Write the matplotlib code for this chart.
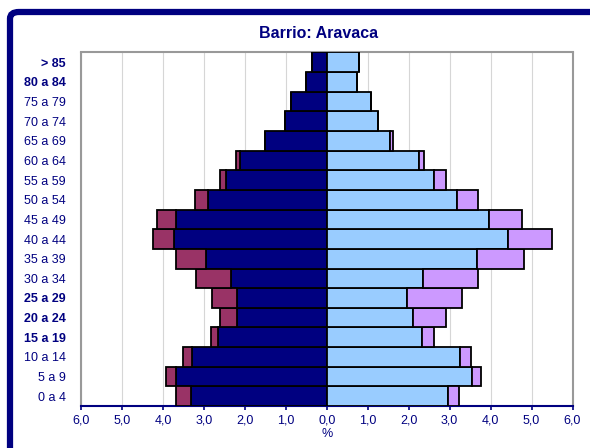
import matplotlib
matplotlib.use("Agg")
import matplotlib.pyplot as plt
from matplotlib.patches import FancyBboxPatch
from matplotlib.ticker import FuncFormatter
import numpy as np

plt.rcParams["font.family"] = ["Liberation Sans", "DejaVu Sans"]

NAVY = "#000080"

# age groups, youngest first
groups = ["0 a 4", "5 a 9", "10 a 14", "15 a 19", "20 a 24", "25 a 29",
          "30 a 34", "35 a 39", "40 a 44", "45 a 49", "50 a 54", "55 a 59",
          "60 a 64", "65 a 69", "70 a 74", "75 a 79", "80 a 84", "> 85"]
bold_groups = ["15 a 19", "20 a 24", "25 a 29", "80 a 84", "> 85"]

# left side (%), inner and outer segments
left_inner = [3.32, 3.68, 3.29, 2.66, 2.20, 2.20, 2.33, 2.96, 3.72, 3.68,
              2.91, 2.46, 2.13, 1.50, 1.03, 0.88, 0.51, 0.36]
left_outer = [0.36, 0.24, 0.22, 0.16, 0.40, 0.60, 0.87, 0.73, 0.53, 0.47,
              0.31, 0.14, 0.08, 0.00, 0.00, 0.00, 0.00, 0.00]

# right side (%), inner and outer segments
right_inner = [2.96, 3.54, 3.25, 2.33, 2.11, 1.97, 2.34, 3.68, 4.42, 3.96,
               3.17, 2.63, 2.25, 1.54, 1.26, 1.08, 0.73, 0.78]
right_outer = [0.28, 0.23, 0.28, 0.28, 0.81, 1.34, 1.36, 1.13, 1.07, 0.80,
               0.53, 0.27, 0.12, 0.07, 0.00, 0.00, 0.00, 0.00]

x_ticks = [-6, -5, -4, -3, -2, -1, 0, 1, 2, 3, 4, 5, 6]

fig = plt.figure(figsize=(5.9, 4.48), dpi=100)
ax = fig.add_axes([81 / 590, 42 / 448, 491.5 / 590, 353.5 / 448])

y = np.arange(len(groups))
li = np.array(left_inner)
ri = np.array(right_inner)
kw = dict(height=1.0, edgecolor="black", linewidth=1.3, zorder=3)
ax.barh(y, -li, color=NAVY, **kw)
ax.barh(y, -np.array(left_outer), left=-li, color="#993366", **kw)
ax.barh(y, ri, color="#99CCFF", **kw)
ax.barh(y, right_outer, left=ri, color="#CC99FF", **kw)

ax.set_xlim(-6, 6)
ax.set_ylim(-0.5, len(groups) - 0.5)
ax.set_xticks(x_ticks)
ax.xaxis.set_major_formatter(FuncFormatter(lambda v, p: f"{abs(v):.1f}".replace(".", ",")))
ax.grid(axis="x", color="#d6d6d6", linewidth=0.8, zorder=0)

ax.set_yticks(y)
ax.set_yticklabels(groups)
for lab in ax.get_yticklabels():
    lab.set_color(NAVY)
    lab.set_fontsize(9)
    if lab.get_text() in bold_groups:
        lab.set_fontweight("bold")
ax.tick_params(axis="y", length=0, pad=11)
ax.tick_params(axis="x", colors=NAVY, labelsize=9, length=3, width=1.2,
               direction="out", pad=3)

for s in ["left", "top", "right"]:
    ax.spines[s].set_color("#999999")
    ax.spines[s].set_linewidth(1.5)
ax.spines["bottom"].set_color(NAVY)
ax.spines["bottom"].set_linewidth(1.5)

ax.set_xlabel("%", color=NAVY, fontsize=9, labelpad=1)
fig.text(319 / 590, 1 - 34 / 448, "Barrio: Aravaca", ha="center", va="center",
         color=NAVY, fontsize=11.5, fontweight="bold")

# outer navy frame (runs off the right and bottom edges)
frame = FancyBboxPatch((10 / 590, -0.1), 1.2, 1.1 - 12 / 448,
                       boxstyle="round,pad=0,rounding_size=0.015",
                       transform=fig.transFigure, facecolor="none",
                       edgecolor=NAVY, linewidth=4.5)
fig.patches.append(frame)

fig.savefig("out.png", dpi=100)
